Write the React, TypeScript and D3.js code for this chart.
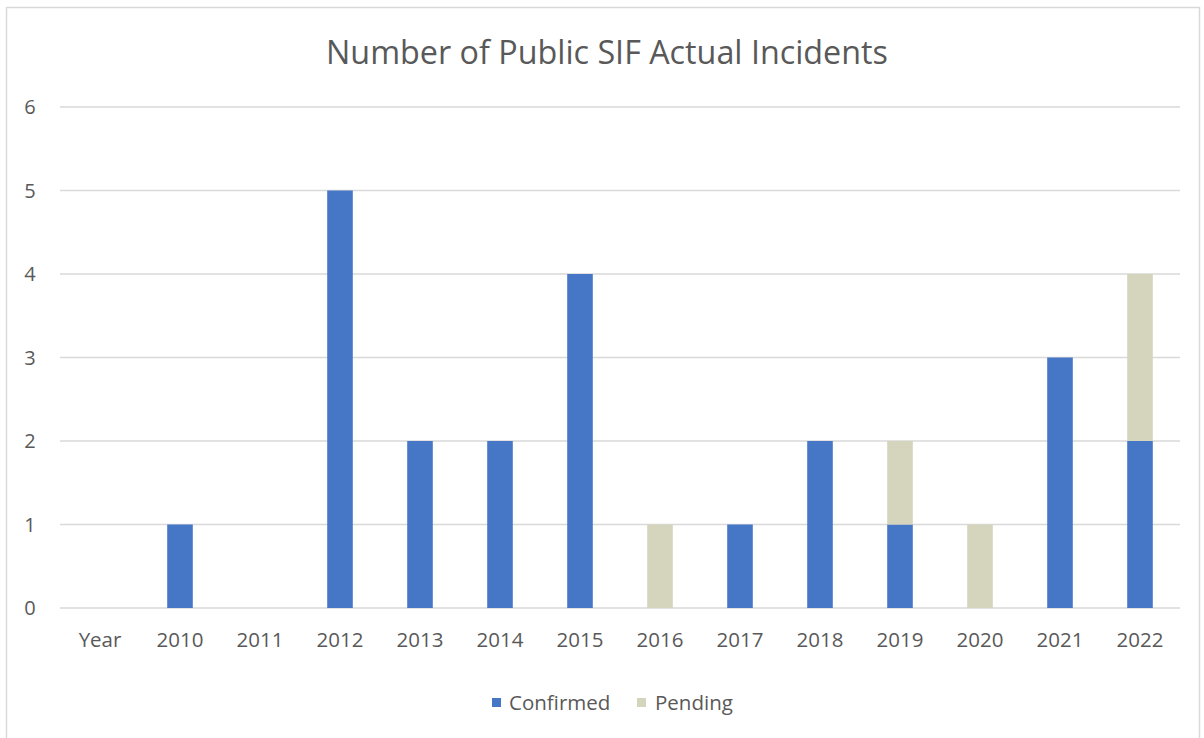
import React from "react";
import * as d3 from "d3";

const categories = ["Year", "2010", "2011", "2012", "2013", "2014", "2015", "2016", "2017", "2018", "2019", "2020", "2021", "2022"];
const confirmed = [0, 1, 0, 5, 2, 2, 4, 0, 1, 2, 1, 0, 3, 2];
const pending = [0, 0, 0, 0, 0, 0, 0, 1, 0, 0, 1, 1, 0, 2];
const yTicks = [0, 1, 2, 3, 4, 5, 6];
const seriesNames = ["Confirmed", "Pending"];
const title = "Number of Public SIF Actual Incidents";

const W = 1204;
const H = 738;
const FONT = "'Open Sans', 'Noto Sans', sans-serif";
const COLORS = ["#4677c6", "#d5d4bd"];
const TEXT = "#595959";

export default function App() {
  const margin = { left: 60, right: 24, top: 107, bottom: 130 };
  const x = d3
    .scaleBand<string>()
    .domain(categories)
    .range([margin.left, W - margin.right])
    .paddingInner(0.68)
    .paddingOuter(0.34);
  const y = d3.scaleLinear().domain([0, 6]).range([H - margin.bottom, margin.top]);

  const rows = categories.map((c, i) => ({ cat: c, Confirmed: confirmed[i], Pending: pending[i] }));
  const stacked = d3.stack<any>().keys(seriesNames)(rows);

  return (
    <svg width={W} height={H} style={{ position: "absolute", left: 0, top: 0, background: "#fff" }}>
      <rect x={6.5} y={7.5} width={1193} height={740} fill="#fff" stroke="#d9d9d9" strokeWidth={1.5} />
      <text x={607} y={64} textAnchor="middle" fontFamily={FONT} fontSize={32.3} fill={TEXT}>
        {title}
      </text>
      {yTicks.map((t) => (
        <g key={t}>
          <line x1={margin.left} x2={W - margin.right} y1={y(t)} y2={y(t)} stroke="#d9d9d9" strokeWidth={1.5} />
          <text x={30} y={y(t)} dy="0.35em" textAnchor="middle" fontFamily={FONT} fontSize={20} fill={TEXT}>
            {t}
          </text>
        </g>
      ))}
      {stacked.map((s, si) => (
        <g key={s.key} fill={COLORS[si]}>
          {s.map((d, i) =>
            d[1] > d[0] ? (
              <rect
                key={i}
                x={x(categories[i])}
                width={x.bandwidth()}
                y={y(d[1])}
                height={y(d[0]) - y(d[1])}
              />
            ) : null
          )}
        </g>
      ))}
      {categories.map((c) => (
        <text
          key={c}
          x={(x(c) as number) + x.bandwidth() / 2}
          y={647}
          textAnchor="middle"
          fontFamily={FONT}
          fontSize={20.5}
          fill={TEXT}
        >
          {c}
        </text>
      ))}
      <g fontFamily={FONT} fontSize={20.5} fill={TEXT}>
        <rect x={492} y={698} width={9} height={9} fill={COLORS[0]} />
        <text x={509} y={710}>{seriesNames[0]}</text>
        <rect x={637} y={698} width={9} height={9} fill={COLORS[1]} />
        <text x={655} y={710}>{seriesNames[1]}</text>
      </g>
    </svg>
  );
}
